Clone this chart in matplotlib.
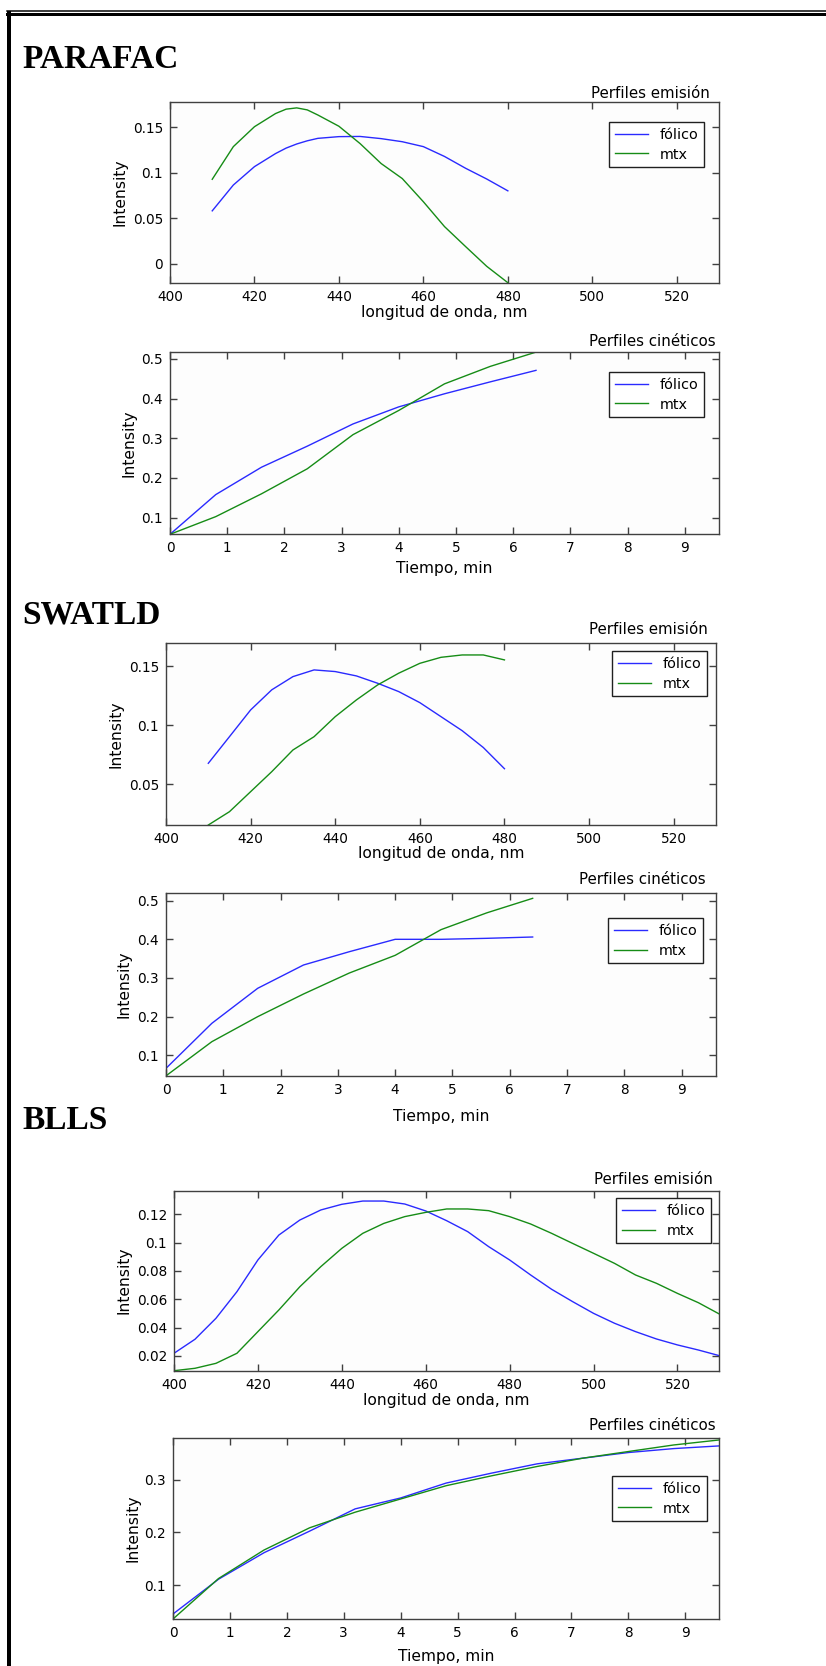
import matplotlib
matplotlib.use("Agg")
import matplotlib.pyplot as plt
from matplotlib.lines import Line2D
from matplotlib.ticker import FormatStrFormatter

plt.rcParams["font.family"] = ["DejaVu Sans"]
plt.rcParams["font.size"] = 9.6

W, H = 826, 1666

# --- data ---
wl_par = [410, 415, 420, 425, 427.5, 430, 432.5, 435, 440, 445, 450, 455, 460, 465, 470,
          475, 480]
par_em_fol = [0.058, 0.0864, 0.1066, 0.121, 0.127, 0.1315, 0.135, 0.1377, 0.1396, 0.1398,
              0.1374, 0.134, 0.1286, 0.1178, 0.1048, 0.093, 0.080]
par_em_mtx = [0.0927, 0.1286, 0.1505, 0.165, 0.1698, 0.1712, 0.1690, 0.1634, 0.151, 0.132,
              0.110, 0.0935, 0.068, 0.0407, 0.0187, -0.003, -0.021]

t_short = [0, 0.8, 1.6, 2.4, 3.2, 4.0, 4.8, 5.6, 6.4]
par_kin_fol = [0.058, 0.158, 0.227, 0.280, 0.336, 0.379, 0.412, 0.442, 0.471]
par_kin_mtx = [0.058, 0.1025, 0.160, 0.223, 0.309, 0.370, 0.437, 0.481, 0.517]

wl_swa = [410, 415, 420, 425, 430, 435, 440, 445, 450, 455, 460, 465, 470, 475, 480]
swa_em_fol = [0.0676, 0.0902, 0.1129, 0.130, 0.1412, 0.1469, 0.1455, 0.1418, 0.1356, 0.1285,
              0.1191, 0.1072, 0.0953, 0.081, 0.063]
swa_em_mtx = [0.0152, 0.0265, 0.0435, 0.0605, 0.0789, 0.0902, 0.1072, 0.1214, 0.1341, 0.1441,
              0.1525, 0.1576, 0.1596, 0.1596, 0.1554]

swa_kin_fol = [0.0664, 0.1828, 0.2733, 0.3336, 0.368, 0.400, 0.400, 0.4026, 0.406]
swa_kin_mtx = [0.047, 0.1353, 0.200, 0.2586, 0.3129, 0.3586, 0.425, 0.4685, 0.506]

wl_bll = [400, 405, 410, 415, 420, 425, 430, 435, 440, 445, 450, 455, 460, 465, 470,
          475, 480, 485, 490, 495, 500, 505, 510, 515, 520, 525, 530]
bll_em_fol = [0.0219, 0.0318, 0.0466, 0.0654, 0.0878, 0.1054, 0.116, 0.1231, 0.1271, 0.1294,
              0.1294, 0.1273, 0.1224, 0.1155, 0.1078, 0.0972, 0.0878, 0.0772, 0.0671, 0.0584,
              0.0501, 0.0431, 0.0372, 0.032, 0.0278, 0.0242, 0.0202]
bll_em_mtx = [0.0096, 0.0113, 0.0148, 0.0219, 0.0372, 0.0525, 0.0689, 0.0831, 0.096, 0.1066,
              0.1136, 0.1184, 0.1214, 0.1238, 0.1238, 0.1226, 0.1184, 0.1132, 0.1066, 0.0995,
              0.0925, 0.0854, 0.0772, 0.0713, 0.0642, 0.0576, 0.0496]

t_long = [0, 0.8, 1.6, 2.4, 3.2, 4.0, 4.8, 5.6, 6.4, 7.2, 8.0, 8.8, 9.6]
bll_kin_fol = [0.0453, 0.1113, 0.1616, 0.2025, 0.2447, 0.2654, 0.2937, 0.3126, 0.3302,
               0.3409, 0.3516, 0.3591, 0.3642]
bll_kin_mtx = [0.0358, 0.1126, 0.1667, 0.2088, 0.2384, 0.2635, 0.2887, 0.3075, 0.3252,
               0.3409, 0.3535, 0.366, 0.3755]

series_names = ["fólico", "mtx"]
headings = ["PARAFAC", "SWATLD", "BLLS"]
em_xticks = [400, 420, 440, 460, 480, 500, 520]
kin_xticks = list(range(10))

fig = plt.figure(figsize=(W / 100, H / 100), dpi=100)


def px_axes(x0, x1, y0, y1):
    return fig.add_axes([x0 / W, 1 - y1 / H, (x1 - x0) / W, (y1 - y0) / H])


def draw_panel(box, x, y1, y2, xlim, ylim, yticks, xticks, title, title_px,
               xlabel, xlab_y, ylab_x, leg_box):
    x0, x1, t, b = box
    ax = px_axes(x0, x1, t, b)
    ax.plot(x, y1, color="#2a2aff", lw=1.0, label=series_names[0])
    ax.plot(x, y2, color="#168c16", lw=1.0, label=series_names[1])
    ax.set_xlim(*xlim)
    ax.set_ylim(*ylim)
    ax.set_xticks(xticks)
    ax.set_yticks(yticks)
    ax.yaxis.set_major_formatter(FormatStrFormatter("%g"))
    ax.tick_params(direction="in", length=5, width=1, color="#404040",
                   top=True, right=True, labelsize=9.8, pad=5)
    for s in ax.spines.values():
        s.set_color("#404040")
        s.set_linewidth(1.0)
    ax.set_facecolor("#fdfdfd")
    fig.text(title_px[0] / W, 1 - title_px[1] / H, title, ha="right", va="center",
             fontsize=10.8)
    fig.text((x0 + x1) / 2 / W, 1 - xlab_y / H, xlabel, ha="center", va="center",
             fontsize=11.2)
    fig.text(ylab_x / W, 1 - (t + b) / 2 / H, "Intensity", ha="center", va="center",
             rotation=90, fontsize=11.2)
    lx0, lx1, ly0, ly1 = leg_box
    leg = ax.legend(loc="upper right", bbox_to_anchor=(lx1 / W, 1 - ly0 / H),
                    bbox_transform=fig.transFigure, borderaxespad=0, fancybox=False,
                    framealpha=1, edgecolor="#202020", fontsize=10.4, handlelength=2.3,
                    borderpad=0.4, labelspacing=0.4, handletextpad=0.8)
    leg.get_frame().set_linewidth(1.0)
    return ax


# PARAFAC
draw_panel((170, 719, 101.7, 282.7), wl_par, par_em_fol, par_em_mtx, (400, 530),
           (-0.021, 0.178), [0, 0.05, 0.1, 0.15], em_xticks, "Perfiles emisión",
           (710, 93), "longitud de onda, nm", 313, 120, (605, 704, 122, 166))
draw_panel((170, 719, 351.7, 534.3), t_short, par_kin_fol, par_kin_mtx, (0, 9.6),
           (0.058, 0.518), [0.1, 0.2, 0.3, 0.4, 0.5], kin_xticks, "Perfiles cinéticos",
           (716, 341), "Tiempo, min", 568, 129, (605, 704, 372, 414))
# SWATLD
draw_panel((166, 716, 643.3, 825), wl_swa, swa_em_fol, swa_em_mtx, (400, 530),
           (0.0152, 0.1695), [0.05, 0.1, 0.15], em_xticks, "Perfiles emisión",
           (708, 630), "longitud de onda, nm", 853, 116, (603, 707, 651, 695))
draw_panel((166, 716, 893.3, 1076), t_short, swa_kin_fol, swa_kin_mtx, (0, 9.6),
           (0.0466, 0.519), [0.1, 0.2, 0.3, 0.4, 0.5], kin_xticks, "Perfiles cinéticos",
           (706, 880), "Tiempo, min", 1116, 124, (599, 703, 918, 961))
# BLLS
draw_panel((174, 719.4, 1190.7, 1370.7), wl_bll, bll_em_fol, bll_em_mtx, (400, 530),
           (0.0096, 0.1367), [0.02, 0.04, 0.06, 0.08, 0.1, 0.12], em_xticks,
           "Perfiles emisión", (713, 1179), "longitud de onda, nm", 1400, 124,
           (612, 711, 1198, 1241))
draw_panel((173, 719.4, 1438.3, 1619), t_long, bll_kin_fol, bll_kin_mtx, (0, 9.6),
           (0.0358, 0.3786), [0.1, 0.2, 0.3], kin_xticks, "Perfiles cinéticos",
           (716, 1425), "Tiempo, min", 1656, 133, (608, 707, 1476, 1519))

# section headings
for txt, yb in zip(headings, [68, 623, 1129]):
    fig.text(22 / W, 1 - yb / H, txt, ha="left", va="baseline", fontsize=24,
             fontweight="bold", family="Liberation Serif")

# page frame
fig.add_artist(Line2D([7 / W, 1], [1 - 10.5 / H] * 2, transform=fig.transFigure,
                      color="black", lw=1.5 * 0.72))
fig.add_artist(Line2D([7 / W, 1], [1 - 14 / H] * 2, transform=fig.transFigure,
                      color="black", lw=3 * 0.72))
fig.add_artist(Line2D([9 / W] * 2, [1 - 12.5 / H, 0], transform=fig.transFigure,
                      color="black", lw=4 * 0.72))

fig.savefig("out.png", dpi=100)
